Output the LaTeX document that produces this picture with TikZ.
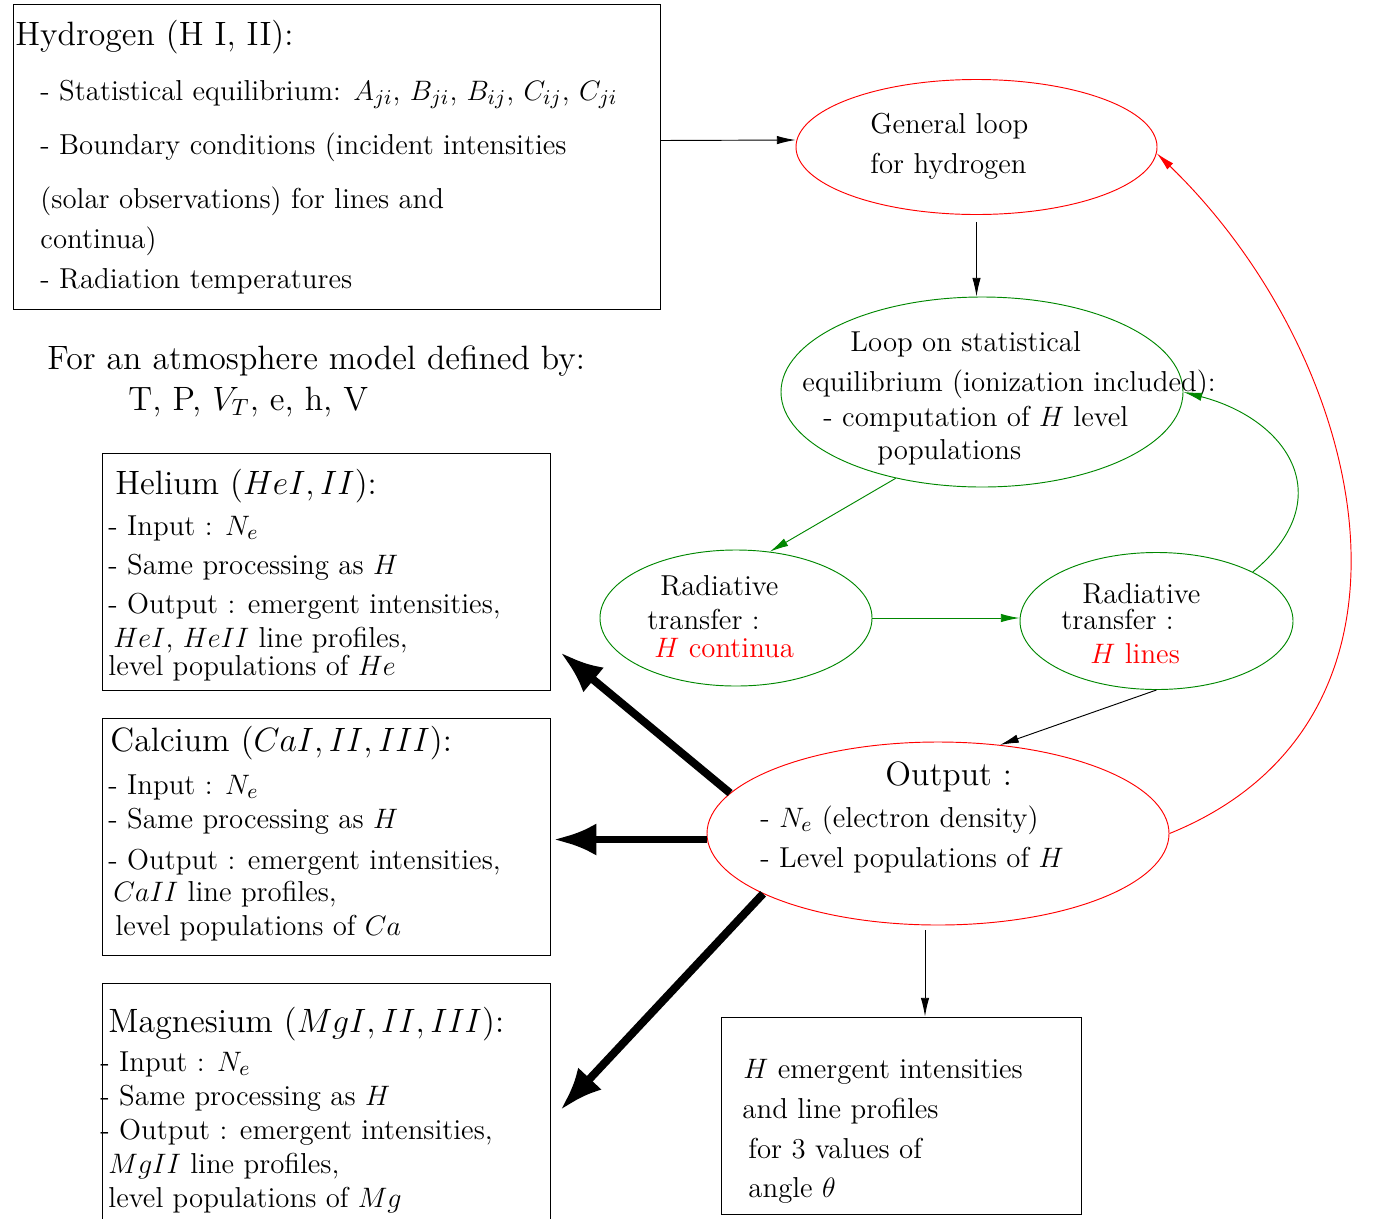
\documentclass[tikz,border=0pt]{standalone}
\usepackage{amsmath, amsfonts, amssymb}
\usepackage{xcolor}
\usepackage{tikz}
\usetikzlibrary{shapes.geometric, arrows.meta, positioning, calc}

\begin{document}
\begin{tikzpicture}[x=0.015cm, y=-0.015cm,
  boxed/.style={draw=black, rectangle, inner sep=0pt},
  oval/.style={ellipse, inner sep=0pt},
  textline/.style={anchor=base west, inner sep=0pt, font=\fontsize{12.3pt}{14pt}\selectfont},
  titleline/.style={anchor=base west, inner sep=0pt, font=\Large},
  thinarrow/.style={-{Latex[length=8pt, width=3.6pt]}},
  thickarrow/.style={-Latex, line width=3.4pt}]
% --- CORES ---
\definecolor{loopgreen}{RGB}{0,135,0}
\useasboundingbox (0,0) rectangle (1373,1218);

% LAYER 1: Hydrogen
\node (hyd) at (336.5,156.5) [boxed, minimum width=9.705cm, minimum height=4.575cm] {};
\node (hyd-t) at (15,45) [titleline] {Hydrogen (H I, II):};
\node (hyd-1) at (40,100) [textline] {- Statistical equilibrium: $A_{ji}$, $B_{ji}$, $B_{ij}$, $C_{ij}$, $C_{ji}$};
\node (hyd-2) at (40,154) [textline] {- Boundary conditions (incident intensities};
\node (hyd-3) at (40,208) [textline] {(solar observations) for lines and};
\node (hyd-4) at (40,248) [textline] {continua)};
\node (hyd-5) at (40,288) [textline] {- Radiation temperatures};

% LAYER 2: Atmosphere model
\node (atm-1) at (47,369) [titleline] {For an atmosphere model defined by:};
\node (atm-2) at (128,410) [titleline] {T, P, $V_T$, e, h, V};

% LAYER 3: Other atoms
\node (he) at (326,571.5) [boxed, minimum width=6.72cm, minimum height=3.555cm] {};
\node (he-t) at (115,494) [titleline] {Helium ($HeI, II$):};
\node (he-1) at (108,535) [textline] {- Input : $N_e$};
\node (he-2) at (108,574) [textline] {- Same processing as $H$};
\node (he-3) at (108,613) [textline] {- Output : emergent intensities,};
\node (he-4) at (113,647) [textline] {$HeI$,\ $HeII$ line profiles,};
\node (he-5) at (108,675) [textline] {level populations of $He$};

\node (ca) at (326,836.5) [boxed, minimum width=6.72cm, minimum height=3.555cm] {};
\node (ca-t) at (110,751) [titleline] {Calcium ($CaI, II, III$):};
\node (ca-1) at (108,794) [textline] {- Input : $N_e$};
\node (ca-2) at (108,828) [textline] {- Same processing as $H$};
\node (ca-3) at (108,869) [textline] {- Output : emergent intensities,};
\node (ca-4) at (113,901) [textline] {$CaII$ line profiles,};
\node (ca-5) at (115,935) [textline] {level populations of $Ca$};

\node (mg) at (326,1108) [boxed, minimum width=6.72cm, minimum height=3.75cm] {};
\node (mg-t) at (108,1032) [titleline] {Magnesium ($MgI, II, III$):};
\node (mg-1) at (100,1071) [textline] {- Input : $N_e$};
\node (mg-2) at (100,1105) [textline] {- Same processing as $H$};
\node (mg-3) at (100,1139) [textline] {- Output : emergent intensities,};
\node (mg-4) at (108,1173) [textline] {$MgII$ line profiles,};
\node (mg-5) at (108,1207) [textline] {level populations of $Mg$};

% LAYER 4: Loops
\node (gen) at (976.5,147) [oval, draw=red, minimum width=5.415cm, minimum height=2.025cm] {};
\node (gen-1) at (870,133) [textline] {General loop};
\node (gen-2) at (870,173) [textline] {for hydrogen};

\node (loop) at (982,392) [oval, draw=loopgreen, minimum width=6.03cm, minimum height=2.85cm] {};
\node (loop-1) at (850,351) [textline] {Loop on statistical};
\node (loop-2) at (802,391) [textline] {equilibrium (ionization included):};
\node (loop-3) at (823,426) [textline] {- computation of $H$ level};
\node (loop-4) at (877,459) [textline] {populations};

\node (radc) at (736,618) [oval, draw=loopgreen, minimum width=4.08cm, minimum height=2.04cm] {};
\node (radc-1) at (660,595) [textline] {Radiative};
\node (radc-2) at (647,629) [textline] {transfer :};
\node (radc-3) at (654,657) [textline, text=red] {$H$ continua};

\node (radl) at (1156.5,621) [oval, draw=loopgreen, minimum width=4.095cm, minimum height=2.055cm] {};
\node (radl-1) at (1082,603) [textline] {Radiative};
\node (radl-2) at (1061,629) [textline] {transfer :};
\node (radl-3) at (1090,663) [textline, text=red] {$H$ lines};

\node (outp) at (938,833.5) [oval, draw=red, minimum width=6.93cm, minimum height=2.745cm] {};
\node (outp-1) at (885,785) [titleline] {Output :};
\node (outp-2) at (760,827) [textline] {- $N_e$ (electron density)};
\node (outp-3) at (760,867) [textline] {- Level populations of $H$};

\node (res) at (901,1115.5) [boxed, minimum width=5.4cm, minimum height=2.955cm] {};
\node (res-1) at (743,1078) [textline] {$H$ emergent intensities};
\node (res-2) at (742,1118) [textline] {and line profiles};
\node (res-3) at (748,1158) [textline] {for 3 values of};
\node (res-4) at (748,1197) [textline] {angle $\theta$};

% LAYER 5: Connectors
\draw[thinarrow] ($(hyd.east)+(0,-16)$) -- ($(gen.west)+(0,-7)$);
\draw[thinarrow] ($(gen.south)+(0,7)$) -- (gen.south |- loop.north);
\draw[thinarrow, loopgreen] (loop.225) -- (radc.63);
\draw[thinarrow, loopgreen] (radc.east) -- (radc.east -| radl.west);
\draw[thinarrow, loopgreen] (radl.27) .. controls (1340,500) and (1290,420) .. (loop.east);
\draw[thinarrow] (radl.south) -- (outp.55);
\draw[thinarrow, red] (outp.east) .. controls (1450,720) and (1370,360) .. (gen.-2);
\coordinate (outdrop) at ($(outp.south)+(-13,5)$);
\draw[thinarrow] (outdrop) -- (outdrop |- res.north);

% LAYER 6: Output to the other atoms
\draw[thickarrow] (outp.169) -- ($(he.south east)+(10,-38)$);
\draw[thickarrow] ($(outp.west)+(0,6)$) -- ($(outp.west -| ca.east)+(3,6)$);
\draw[thickarrow] (outp.199) -- ($(mg.east)+(10,2)$);
\end{tikzpicture}
\end{document}
